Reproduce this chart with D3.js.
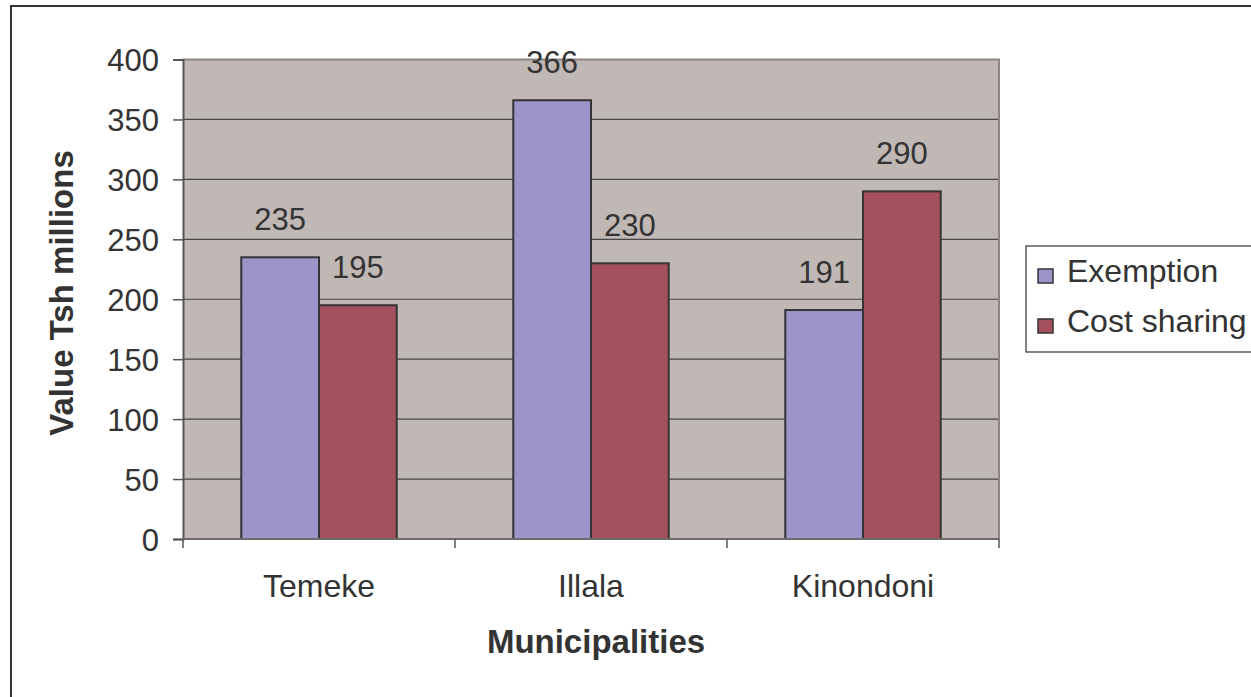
<!DOCTYPE html>
<html>
<head>
<meta charset="utf-8">
<script src="https://cdn.jsdelivr.net/npm/d3@7"></script>
<style>
  html, body { margin: 0; padding: 0; background: #fff; }
  svg { display: block; }
  text { font-family: "Liberation Sans", Arial, sans-serif; fill: #333; }
</style>
</head>
<body>
<svg id="chart" width="1251" height="697"></svg>
<script>
// Municipal health financing values (Tsh millions)
const municipalities = ["Temeke", "Illala", "Kinondoni"];
const seriesNames = ["Exemption", "Cost sharing"];
const exemption = [235, 366, 191];
const costSharing = [195, 230, 290];
const yTicks = [0, 50, 100, 150, 200, 250, 300, 350, 400];
const seriesColors = ["#9b95c9", "#a5505f"];

const rows = municipalities.map((m, i) => ({
  name: m,
  values: [exemption[i], costSharing[i]]
}));

const svg = d3.select("#chart");

// Outer chart frame
svg.append("rect")
  .attr("x", 11).attr("y", 6)
  .attr("width", 1300).attr("height", 760)
  .attr("fill", "#fff").attr("stroke", "#333").attr("stroke-width", 2);

const plot = { left: 183, right: 999, top: 59.5, bottom: 539 };

const x0 = d3.scaleBand()
  .domain(municipalities)
  .range([plot.left, plot.right])
  .padding(0);

// Gap width of 150% between clusters: each bar = band / 3.5
const barW = x0.bandwidth() / 3.5;
const x1 = d3.scaleBand()
  .domain(seriesNames)
  .range([barW * 0.75, barW * 2.75])
  .padding(0);

const y = d3.scaleLinear().domain([0, 400]).range([plot.bottom, plot.top]);

// Plot area background
svg.append("rect")
  .attr("x", plot.left).attr("y", plot.top)
  .attr("width", plot.right - plot.left).attr("height", plot.bottom - plot.top)
  .attr("fill", "#c0b8b5");

// Horizontal gridlines
svg.append("g")
  .selectAll("line")
  .data(yTicks.filter(t => t > 0 && t < 400))
  .join("line")
  .attr("x1", plot.left).attr("x2", plot.right)
  .attr("y1", d => y(d)).attr("y2", d => y(d))
  .attr("stroke", "#474545").attr("stroke-width", 1.2);

// Plot area top/right border
svg.append("path")
  .attr("d", `M${plot.left},${plot.top}H${plot.right}V${plot.bottom}`)
  .attr("fill", "none").attr("stroke", "#8e8482").attr("stroke-width", 2);

// Bars
const groups = svg.append("g")
  .selectAll("g")
  .data(rows)
  .join("g")
  .attr("transform", d => `translate(${x0(d.name)},0)`);

groups.selectAll("rect")
  .data(d => d.values.map((v, i) => ({ key: seriesNames[i], value: v, i })))
  .join("rect")
  .attr("x", d => x1(d.key))
  .attr("y", d => y(d.value))
  .attr("width", x1.bandwidth())
  .attr("height", d => y(0) - y(d.value))
  .attr("fill", d => seriesColors[d.i])
  .attr("stroke", "#353335").attr("stroke-width", 2);

// Data labels
groups.selectAll("text.val")
  .data(d => d.values.map((v, i) => ({ key: seriesNames[i], value: v })))
  .join("text")
  .attr("class", "val")
  .attr("x", d => x1(d.key) + x1.bandwidth() / 2)
  .attr("y", d => y(d.value) - 27)
  .attr("text-anchor", "middle")
  .attr("font-size", 31)
  .text(d => d.value);

// Y axis
const yAxis = d3.axisLeft(y).tickValues(yTicks).tickSize(10).tickPadding(14);
const gy = svg.append("g")
  .attr("transform", `translate(${plot.left},0)`)
  .call(yAxis);
gy.select(".domain").attr("stroke", "#555").attr("stroke-width", 2);
gy.selectAll(".tick line").attr("stroke", "#555").attr("stroke-width", 1.5);
gy.selectAll(".tick text")
  .attr("font-size", 31)
  .attr("font-family", "Liberation Sans, Arial, sans-serif")
  .attr("fill", "#333")
  .attr("dy", "0.36em");

// X axis with ticks between categories
const xAxisLine = svg.append("g");
xAxisLine.append("line")
  .attr("x1", plot.left).attr("x2", plot.right)
  .attr("y1", plot.bottom).attr("y2", plot.bottom)
  .attr("stroke", "#6f6868").attr("stroke-width", 2);
const boundaries = municipalities.map(m => x0(m)).concat([plot.right]);
xAxisLine.selectAll("line.tk")
  .data(boundaries)
  .join("line")
  .attr("class", "tk")
  .attr("x1", d => d).attr("x2", d => d)
  .attr("y1", plot.bottom).attr("y2", plot.bottom + 9)
  .attr("stroke", "#555").attr("stroke-width", 1.5);
xAxisLine.selectAll("text")
  .data(municipalities)
  .join("text")
  .attr("x", d => x0(d) + x0.bandwidth() / 2)
  .attr("y", 597)
  .attr("text-anchor", "middle")
  .attr("font-size", 32)
  .text(d => d);

// Axis titles
svg.append("text")
  .attr("x", 596).attr("y", 653)
  .attr("text-anchor", "middle")
  .attr("font-size", 33).attr("font-weight", "bold")
  .text("Municipalities");

svg.append("text")
  .attr("transform", "translate(73,293) rotate(-90)")
  .attr("text-anchor", "middle")
  .attr("font-size", 33).attr("font-weight", "bold")
  .text("Value Tsh millions");

// Legend
const legend = svg.append("g");
legend.append("rect")
  .attr("x", 1026).attr("y", 246)
  .attr("width", 260).attr("height", 106)
  .attr("fill", "#fff").attr("stroke", "#333").attr("stroke-width", 1.2);
const li = legend.selectAll("g")
  .data(seriesNames)
  .join("g")
  .attr("transform", (d, i) => `translate(0,${i * 50})`);
li.append("rect")
  .attr("x", 1038).attr("y", 269)
  .attr("width", 15).attr("height", 14)
  .attr("fill", (d, i) => seriesColors[i])
  .attr("stroke", "#333").attr("stroke-width", 1.5);
li.append("text")
  .attr("x", 1067).attr("y", 282)
  .attr("font-size", 32)
  .text(d => d);
</script>
</body>
</html>
